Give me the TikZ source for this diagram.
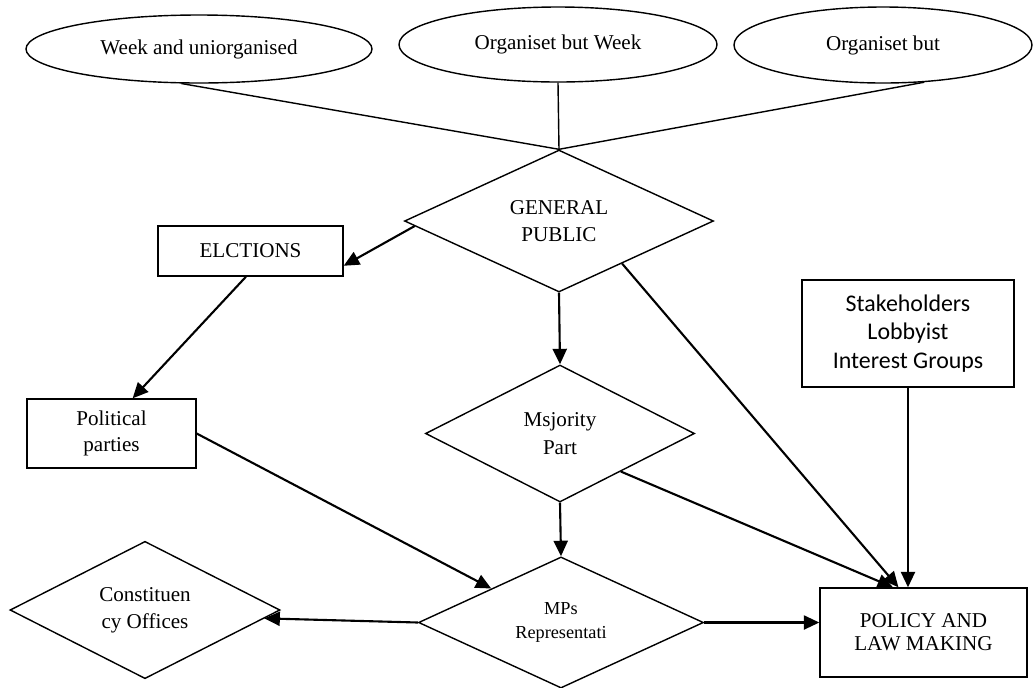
\documentclass[tikz,border=0pt]{standalone}
\usepackage{fontspec}
\setmainfont{Liberation Serif}
\newfontfamily\calibri{Carlito}
\usepackage{tikz}
\usetikzlibrary{shapes.geometric,arrows.meta}

\newcommand\pix{0.025cm}
\tikzset{
  oval/.style={ellipse, draw, line width=1pt, inner sep=0pt, font=\fontsize{15}{19}\selectfont},
  choice/.style={diamond, draw, line width=1pt, inner sep=0pt, align=center, font=\fontsize{15}{19.5}\selectfont},
  box/.style={rectangle, draw, line width=1pt, inner sep=0pt, align=center, font=\fontsize{15}{18.5}\selectfont},
  size/.style 2 args={minimum width=#1*\pix, minimum height=#2*\pix},
  link/.style={line width=1pt},
  flow/.style={line width=1.5pt, -{Triangle[length=11pt,width=10pt]}}
}

\begin{document}
\begin{tikzpicture}[x=0.025cm, y=-0.025cm]
\useasboundingbox (0,0) rectangle (1034,687);
%
\node [oval, size={346}{68}] (weak) at (199,49) {Week and uniorganised};
\node [oval, size={318}{75}] (orgweak) at (558,44.5) {Organiset but Week};
\node [oval, size={298}{76}] (orgbut) at (883,45) {Organiset but};
%
\node [choice, size={309}{142}] (public) at (559,221) {GENERAL\\PUBLIC};
\node [box, size={185}{50}] (elect) at (250.5,251) {ELCTIONS};
\node [box, size={169}{69}] (parties) at (111.5,433.5) {Political\\parties};
\node [choice, size={269}{137}] (majority) at (560,433.5) {Msjority\\Part};
\node [box, size={212}{107}, font=\calibri\fontsize{17}{20.5}\selectfont] (stake) at (908,333.5) {Stakeholders\\Lobbyist\\Interest Groups};
\node [choice, size={285}{127}, font=\fontsize{13}{17}\selectfont] (mps) at (561,622.5) {MPs\\Representati};
\node [choice, size={270}{134}] (office) at (145,610) {Constituen\\cy Offices};
\node [box, size={207}{89}, font=\fontsize{15}{16.5}\selectfont] (policy) at (923.5,632.5) {POLICY AND\\LAW MAKING};
%
\draw [link] (weak.243) -- (public.north);
\draw [link] (orgweak.south) -- (public.north);
\draw [link] (orgbut.-42) -- (public.north);
%
\draw [flow] (public.182) -- (elect.-9);
\draw [flow] (elect.260) -- (parties.59);
\draw [flow] (public.south) -- (majority.north);
\draw [flow] (public.-34) -- (policy.119);
\draw [flow] (majority.-32) -- (policy.124);
\draw [flow] (stake.south) -- (stake.south |- policy.north);
\draw [flow] (parties.east) -- (mps.154);
\draw [flow] (majority.south) -- (mps.north);
\draw [flow] (mps.west) -- (office.-4);
\draw [flow] (mps.east) -- (mps.east -| policy.west);
%%%%%%%%%%%%%%%%%%%%%%%%%%%%%%%
\end{tikzpicture}
\end{document}
